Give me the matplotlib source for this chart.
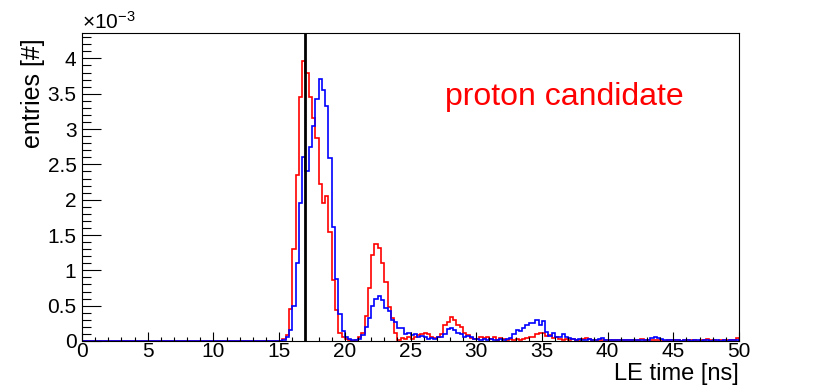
import numpy as np
import matplotlib.pyplot as plt
from matplotlib.ticker import MultipleLocator, FormatStrFormatter

plt.rcParams['font.family'] = ['Liberation Sans', 'DejaVu Sans']
plt.rcParams['mathtext.fontset'] = 'custom'
plt.rcParams['mathtext.rm'] = 'Liberation Sans'
plt.rcParams['mathtext.it'] = 'Liberation Sans:italic'

# histogram binning: 200 bins of 0.25 ns from 0 to 50 ns, values in units of 1e-3
bin_lo, bin_hi, n_bins = 0.0, 50.0, 200
n_empty = 60  # bins below 15 ns are empty

red_vals = [
    0.00, 0.03, 0.08, 0.45, 1.30, 2.35, 3.45, 3.97, 3.80, 3.45, 3.15, 2.88,
    2.22, 1.95, 2.05, 1.55, 0.86, 0.44, 0.12, 0.05, 0.03, 0.01, 0.00, 0.02,
    0.05, 0.12, 0.35, 0.75, 1.22, 1.37, 1.31, 1.10, 0.84, 0.48, 0.32, 0.12,
    0.02, 0.04, 0.03, 0.05, 0.03, 0.05, 0.08, 0.10, 0.11, 0.10, 0.06, 0.04,
    0.05, 0.10, 0.22, 0.27, 0.34, 0.30, 0.22, 0.20, 0.12, 0.08, 0.04, 0.03,
    0.03, 0.05, 0.04, 0.06, 0.03, 0.05, 0.02, 0.04, 0.03, 0.02, 0.03, 0.02,
    0.03, 0.02, 0.03, 0.04, 0.05, 0.06, 0.10, 0.12, 0.11, 0.07, 0.08, 0.04,
    0.05, 0.03, 0.02, 0.03,
    0.02, 0.03, 0.01, 0.02, 0.03, 0.04, 0.03, 0.01, 0.02, 0.01, 0.02, 0.01,
    0.01, 0.02, 0.01, 0.01, 0.02, 0.01, 0.02, 0.01, 0.01, 0.02, 0.03, 0.01,
    0.01, 0.01, 0.02, 0.01, 0.01, 0.00, 0.01, 0.01, 0.01, 0.01, 0.00, 0.01,
    0.01, 0.01, 0.01, 0.00, 0.01, 0.01, 0.03, 0.01, 0.01, 0.00, 0.01, 0.01,
    0.01, 0.01, 0.01, 0.04,
]

blue_vals = [
    0.00, 0.01, 0.05, 0.15, 0.50, 1.10, 1.95, 2.60, 2.40, 2.75, 3.05, 3.42,
    3.71, 3.55, 3.32, 2.59, 1.62, 0.88, 0.38, 0.14, 0.06, 0.03, 0.01, 0.02,
    0.03, 0.08, 0.20, 0.33, 0.50, 0.60, 0.64, 0.58, 0.47, 0.42, 0.30, 0.27,
    0.18, 0.18, 0.10, 0.12, 0.08, 0.10, 0.05, 0.07, 0.05, 0.03, 0.04, 0.03,
    0.05, 0.06, 0.10, 0.17, 0.18, 0.16, 0.12, 0.10, 0.06, 0.07, 0.05, 0.03,
    0.03, 0.02, 0.03, 0.02, 0.03, 0.02, 0.02, 0.03, 0.02, 0.03, 0.04, 0.10,
    0.16, 0.14, 0.18, 0.22, 0.25, 0.26, 0.30, 0.23, 0.28, 0.13, 0.07, 0.12,
    0.06, 0.05, 0.10, 0.06,
    0.04, 0.03, 0.02, 0.03, 0.02, 0.02, 0.03, 0.02, 0.02, 0.03, 0.04, 0.02,
    0.01, 0.02, 0.01, 0.01, 0.02, 0.01, 0.01, 0.01, 0.01, 0.02, 0.01, 0.02,
    0.02, 0.04, 0.05, 0.04, 0.03, 0.02, 0.01, 0.01, 0.01, 0.01, 0.00, 0.01,
    0.01, 0.00, 0.01, 0.01, 0.00, 0.01, 0.01, 0.00, 0.01, 0.01, 0.00, 0.01,
    0.00, 0.01, 0.01, 0.01,
]

cut_time = 17.0
label_text = 'proton candidate'

edges = np.linspace(bin_lo, bin_hi, n_bins + 1)
red = np.concatenate([np.zeros(n_empty), red_vals])
blue = np.concatenate([np.zeros(n_empty), blue_vals])

fig = plt.figure(figsize=(8.22, 3.86), dpi=100)
ax = fig.add_axes([82/822, 1-341/386, (739-82)/822, (341-33)/386])

ax.stairs(red, edges, baseline=0, color='#ff0000', lw=1.2)
ax.stairs(blue, edges, baseline=0, color='#0000ff', lw=1.2)
ax.axvline(cut_time, color='black', lw=2.0)

ax.set_xlim(0, 50)
ax.set_ylim(0, 4.36)

ax.xaxis.set_major_locator(MultipleLocator(5))
ax.xaxis.set_minor_locator(MultipleLocator(1))
ax.yaxis.set_major_locator(MultipleLocator(0.5))
ax.yaxis.set_minor_locator(MultipleLocator(0.1))
ax.yaxis.set_major_formatter(FormatStrFormatter('%g'))
ax.tick_params(axis='both', which='both', direction='in', labelsize=15, width=0.8)
ax.tick_params(axis='x', which='major', length=6.5, pad=1)
ax.tick_params(axis='x', which='minor', length=3.2)
ax.tick_params(axis='y', which='major', length=13.5, pad=4)
ax.tick_params(axis='y', which='minor', length=6.5)
for s in ax.spines.values():
    s.set_linewidth(0.8)

ax.text(27.6, 3.45, label_text, color='#ff0000', fontsize=23, ha='left', va='center')
ax.text(0, 1.0, r'$\times10^{-3}$', transform=ax.transAxes, fontsize=15,
        ha='left', va='bottom')

fig.text(33/822, 1-38/386, 'entries [#]', rotation=90, fontsize=18,
         ha='center', va='top')
fig.text(739/822, 1/386, 'LE time [ns]', fontsize=17, ha='right', va='bottom')

fig.savefig('out.png', dpi=100)
